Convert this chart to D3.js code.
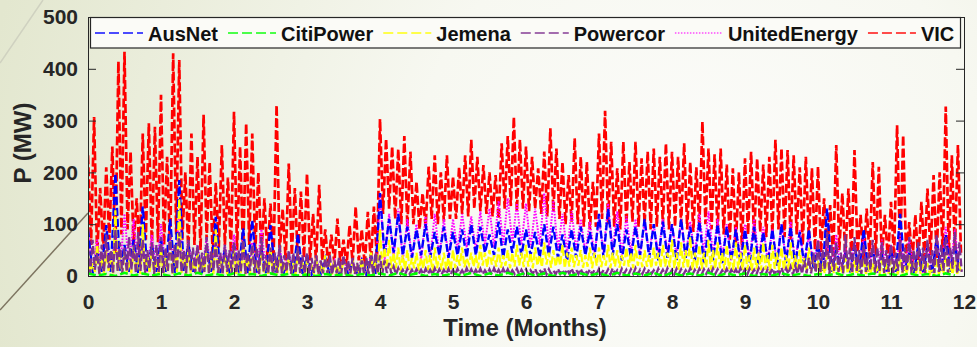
<!DOCTYPE html>
<html>
<head>
<meta charset="utf-8">
<script src="https://cdn.jsdelivr.net/npm/d3@7"></script>
<style>
  html, body { margin: 0; padding: 0; overflow: hidden; }
  svg { display: block; }
</style>
</head>
<body>
<svg id="chart" width="977" height="347"></svg>
<script>
// months on the x axis, MW on the y axis
const monthTicks = [0, 1, 2, 3, 4, 5, 6, 7, 8, 9, 10, 11, 12];
const powerTicks = [0, 100, 200, 300, 400, 500];
const seriesNames = ['AusNet', 'CitiPower', 'Jemena', 'Powercor', 'UnitedEnergy', 'VIC'];

// VIC: 12 peaks / troughs per month
const vicHi = [
  233, 307, 170, 210, 250, 414, 433, 240, 150, 275, 295, 288,
  350, 230, 430, 417, 200, 275, 230, 311, 220, 180, 253, 190,
  317, 250, 295, 275, 200, 150, 140, 330, 130, 217, 170, 163,
  198, 120, 176, 90, 80, 111, 70, 98, 134, 90, 124, 134,
  303, 265, 250, 245, 270, 240, 182, 160, 211, 233, 200, 233,
  192, 210, 233, 263, 230, 214, 200, 195, 256, 270, 307, 263,
  250, 230, 208, 240, 285, 246, 220, 195, 266, 230, 220, 182,
  275, 319, 259, 208, 259, 220, 259, 227, 240, 246, 230, 256,
  240, 230, 256, 220, 210, 298, 246, 235, 246, 215, 208, 200,
  227, 240, 227, 215, 230, 263, 246, 243, 233, 210, 230, 208,
  211, 150, 137, 253, 160, 169, 243, 118, 130, 220, 211, 118,
  143, 291, 272, 104, 118, 143, 169, 195, 200, 327, 233, 253
];
const vicLo = [
  60, 40, 50, 70, 45, 80, 90, 60, 40, 70, 55, 65,
  60, 50, 80, 70, 45, 60, 50, 70, 40, 55, 60, 45,
  50, 40, 60, 45, 40, 35, 30, 45, 30, 40, 30, 35,
  30, 25, 30, 20, 25, 20, 20, 25, 30, 20, 25, 30,
  120, 130, 110, 100, 95, 100, 90, 95, 110, 100, 105, 110,
  110, 120, 115, 130, 125, 120, 115, 110, 130, 135, 125, 130,
  125, 130, 120, 115, 125, 110, 100, 105, 100, 95, 90, 95,
  110, 100, 95, 90, 100, 105, 95, 100, 90, 95, 100, 90,
  95, 100, 90, 85, 95, 100, 90, 85, 80, 70, 60, 55,
  80, 70, 85, 75, 80, 90, 75, 70, 80, 60, 70, 50,
  45, 40, 35, 50, 40, 35, 45, 30, 35, 40, 35, 30,
  35, 40, 30, 25, 30, 35, 40, 35, 45, 40, 50, 45
];

// UnitedEnergy, AusNet: 8 peaks / troughs per month
const ueHi = [
  90, 70, 60, 80, 120, 110, 70, 80,
  100, 80, 120, 70, 60, 75, 65, 60,
  80, 70, 65, 90, 50, 55, 45, 40,
  40, 35, 30, 30, 35, 30, 35, 40,
  155, 120, 130, 110, 100, 115, 120, 110,
  110, 120, 115, 125, 130, 145, 150, 140,
  140, 130, 160, 145, 120, 125, 110, 105,
  110, 140, 125, 115, 110, 105, 100, 110,
  100, 110, 105, 120, 125, 110, 100, 95,
  100, 110, 95, 90, 100, 105, 90, 80,
  70, 60, 80, 55, 65, 75, 60, 70,
  60, 80, 70, 55, 65, 75, 95, 90
];
const ueLo = [
  10, 8, 12, 10, 15, 10, 8, 10,
  10, 8, 10, 8, 6, 8, 6, 8,
  6, 5, 6, 8, 5, 6, 5, 5,
  5, 4, 5, 4, 5, 4, 5, 5,
  30, 35, 30, 35, 30, 35, 40, 35,
  50, 55, 50, 60, 55, 60, 65, 60,
  55, 60, 55, 50, 45, 50, 45, 40,
  45, 50, 40, 45, 40, 45, 40, 45,
  40, 35, 40, 45, 40, 35, 30, 35,
  30, 35, 30, 25, 30, 25, 20, 20,
  10, 8, 10, 8, 10, 8, 6, 8,
  8, 10, 8, 6, 8, 10, 12, 10
];
const ausHi = [
  90, 50, 98, 198, 60, 70, 134, 60,
  70, 110, 185, 60, 50, 55, 114, 50,
  60, 92, 108, 50, 98, 45, 40, 82,
  40, 30, 35, 25, 30, 25, 30, 40,
  160, 110, 120, 95, 90, 100, 85, 95,
  85, 90, 100, 95, 80, 105, 90, 95,
  90, 85, 100, 95, 80, 90, 95, 85,
  120, 130, 100, 90, 95, 110, 100, 105,
  100, 110, 95, 105, 90, 100, 95, 90,
  90, 95, 85, 90, 100, 95, 85, 90,
  60, 130, 50, 45, 60, 90, 50, 40,
  50, 120, 45, 60, 55, 70, 80, 60
];
const ausLo = [
  5, 8, 6, 10, 8, 6, 10, 8,
  8, 6, 10, 8, 6, 8, 6, 5,
  5, 6, 5, 6, 5, 4, 5, 4,
  3, 4, 3, 3, 4, 3, 3, 4,
  40, 45, 40, 35, 40, 35, 40, 35,
  40, 35, 40, 45, 40, 35, 45, 40,
  40, 35, 40, 35, 30, 35, 40, 35,
  35, 40, 30, 35, 40, 35, 30, 35,
  30, 35, 30, 25, 30, 25, 30, 25,
  25, 20, 25, 20, 25, 20, 20, 15,
  10, 8, 10, 6, 8, 10, 6, 8,
  8, 10, 6, 8, 6, 10, 8, 10
];

// Jemena, Powercor: 16 peaks / troughs per month
const jemHi = [
  40, 25, 60, 35, 50, 30, 127, 40, 45, 30, 55, 35, 100, 40, 50, 30,
  55, 35, 70, 40, 150, 45, 50, 30, 45, 35, 60, 30, 90, 35, 40, 30,
  50, 30, 65, 35, 60, 30, 45, 30, 55, 30, 40, 25, 35, 25, 50, 30,
  30, 20, 35, 20, 40, 25, 30, 20, 35, 20, 30, 20, 35, 25, 45, 30,
  90, 55, 70, 45, 55, 40, 50, 35, 45, 35, 50, 40, 55, 40, 45, 35,
  50, 40, 55, 35, 45, 40, 60, 45, 50, 40, 55, 40, 50, 45, 60, 45,
  60, 45, 55, 40, 65, 45, 50, 40, 60, 45, 55, 40, 50, 40, 55, 45,
  55, 40, 60, 45, 50, 40, 55, 45, 60, 40, 50, 40, 55, 45, 60, 45,
  70, 45, 65, 50, 75, 45, 60, 45, 70, 50, 65, 45, 60, 40, 65, 45,
  60, 40, 55, 45, 65, 40, 60, 45, 55, 40, 65, 40, 50, 35, 55, 35,
  30, 20, 40, 20, 25, 15, 35, 20, 30, 20, 35, 20, 25, 15, 30, 20,
  30, 20, 35, 20, 40, 25, 30, 20, 25, 15, 35, 20, 40, 20, 30, 20
];
const jemLo = [
  5, 8, 4, 6, 10, 5, 8, 4, 6, 5, 8, 4, 6, 5, 7, 4,
  5, 7, 4, 8, 6, 4, 5, 6, 4, 7, 5, 4, 6, 5, 4, 5,
  4, 6, 3, 5, 4, 3, 5, 4, 3, 4, 5, 3, 4, 3, 5, 3,
  3, 4, 3, 3, 4, 3, 3, 4, 3, 3, 4, 3, 3, 4, 3, 4,
  10, 14, 12, 15, 10, 13, 12, 15, 11, 14, 12, 10, 15, 12, 13, 11,
  15, 20, 17, 22, 18, 15, 20, 17, 22, 18, 16, 20, 15, 18, 20, 17,
  18, 15, 20, 17, 22, 16, 18, 20, 15, 18, 17, 20, 16, 18, 15, 20,
  17, 20, 15, 18, 16, 20, 18, 15, 20, 17, 18, 15, 20, 16, 18, 17,
  15, 12, 16, 14, 12, 15, 13, 16, 12, 14, 15, 12, 13, 11, 14, 12,
  12, 10, 13, 11, 12, 10, 14, 11, 12, 10, 11, 9, 10, 8, 9, 7,
  4, 5, 3, 5, 4, 3, 5, 4, 3, 5, 4, 3, 5, 4, 3, 4,
  4, 3, 5, 4, 3, 5, 4, 3, 4, 5, 3, 4, 5, 3, 4, 4
];
const pcHi = [
  55, 70, 45, 60, 80, 50, 90, 65, 55, 75, 60, 85, 70, 50, 65, 60,
  75, 55, 80, 60, 85, 50, 70, 55, 60, 45, 75, 50, 65, 45, 60, 50,
  65, 50, 70, 45, 60, 55, 75, 40, 55, 45, 60, 40, 50, 45, 55, 40,
  45, 35, 40, 30, 35, 40, 30, 35, 40, 30, 35, 25, 30, 35, 40, 45,
  40, 30, 25, 18, 15, 12, 14, 12, 13, 12, 14, 12, 15, 13, 12, 14,
  12, 14, 11, 15, 13, 12, 14, 11, 13, 15, 12, 14, 13, 11, 14, 12,
  13, 11, 14, 12, 15, 13, 11, 14, 12, 13, 15, 12, 14, 11, 13, 12,
  14, 12, 13, 15, 11, 14, 12, 13, 15, 12, 14, 13, 11, 14, 12, 15,
  12, 14, 13, 11, 15, 12, 14, 13, 12, 15, 13, 11, 14, 12, 13, 15,
  13, 14, 12, 15, 13, 14, 15, 13, 16, 15, 18, 20, 25, 30, 35, 45,
  70, 50, 85, 60, 65, 45, 80, 55, 75, 50, 60, 45, 70, 55, 65, 50,
  60, 45, 70, 55, 75, 50, 65, 55, 70, 50, 80, 60, 75, 55, 85, 65
];
const pcLo = [
  5, 12, 4, 8, 15, 6, 10, 4, 8, 12, 5, 10, 6, 14, 4, 8,
  6, 10, 4, 12, 8, 5, 10, 6, 4, 8, 5, 10, 6, 4, 8, 5,
  5, 8, 4, 10, 6, 4, 8, 5, 4, 6, 5, 8, 4, 5, 6, 4,
  4, 6, 3, 5, 4, 3, 5, 4, 3, 5, 4, 3, 5, 4, 3, 5,
  4, 6, 4, 3, 4, 3, 4, 3, 4, 3, 4, 3, 4, 3, 4, 3,
  3, 4, 3, 4, 3, 4, 3, 4, 3, 4, 3, 4, 3, 4, 3, 4,
  3, 4, 3, 4, 3, 4, 3, 4, 3, 4, 3, 4, 3, 4, 3, 4,
  3, 4, 3, 4, 3, 4, 3, 4, 3, 4, 3, 4, 3, 4, 3, 4,
  3, 4, 3, 4, 3, 4, 3, 4, 3, 4, 3, 4, 3, 4, 3, 4,
  3, 4, 3, 4, 3, 4, 3, 4, 3, 4, 3, 4, 4, 5, 5, 6,
  6, 12, 4, 10, 8, 5, 14, 6, 10, 4, 8, 12, 5, 10, 6, 8,
  5, 10, 6, 12, 4, 8, 10, 5, 12, 6, 8, 10, 5, 14, 6, 8
];

// CitiPower: 4 per month, hugging zero
const citiHi = [
  5, 4, 6, 5, 4, 5, 6, 4, 5, 4, 5, 4, 3, 4, 3, 4,
  5, 6, 5, 4, 5, 6, 5, 6, 6, 5, 6, 5, 5, 6, 5, 6,
  6, 5, 6, 5, 5, 4, 5, 4, 4, 5, 4, 5, 4, 5, 4, 5
];
const citiLo = [
  1, 0, 1, 1, 0, 1, 1, 0, 1, 0, 1, 1, 0, 1, 0, 1,
  1, 1, 0, 1, 1, 0, 1, 1, 1, 0, 1, 1, 0, 1, 1, 0,
  1, 1, 0, 1, 0, 1, 1, 0, 1, 0, 1, 1, 0, 1, 0, 1
];

const colors = {
  AusNet: '#0000ff', CitiPower: '#00ff00', Jemena: '#ffff00',
  Powercor: '#7e2f8e', UnitedEnergy: '#ff00ff', VIC: '#ff0000'
};
const dashes = {
  AusNet: '8,3', CitiPower: '8,3', Jemena: '8,3',
  Powercor: '8,3', UnitedEnergy: '1.6,1.4', VIC: '9,3'
};
const widths = {
  AusNet: 2.4, CitiPower: 2.5, Jemena: 2.2,
  Powercor: 2.3, UnitedEnergy: 2, VIC: 2.7
};

// peak at start of each slot, trough half a slot later
function zigzag(hi, lo) {
  const perMonth = hi.length / 12;
  const pts = [];
  hi.forEach((h, i) => {
    pts.push([i / perMonth, h]);
    pts.push([(i + 0.5) / perMonth, lo[i]]);
  });
  return pts;
}

const seriesData = {
  VIC: zigzag(vicHi, vicLo),
  UnitedEnergy: zigzag(ueHi, ueLo),
  AusNet: zigzag(ausHi, ausLo),
  Jemena: zigzag(jemHi, jemLo),
  Powercor: zigzag(pcHi, pcLo),
  CitiPower: zigzag(citiHi, citiLo)
};
const drawOrder = ['VIC', 'UnitedEnergy', 'AusNet', 'Jemena', 'Powercor', 'CitiPower'];

const W = 977, H = 347;
const mLeft = 88, mRight = 964, mTop = 17, mBottom = 276;
const font = '"Liberation Sans", Arial, sans-serif';
const ink = '#262626';

const svg = d3.select('#chart');

// slide background
const defs = svg.append('defs');
const grad = defs.append('radialGradient')
  .attr('id', 'bg')
  .attr('gradientUnits', 'userSpaceOnUse')
  .attr('cx', 700).attr('cy', 190).attr('r', 720);
grad.append('stop').attr('offset', 0).attr('stop-color', '#fcfcfa');
grad.append('stop').attr('offset', 0.4).attr('stop-color', '#f7f8f1');
grad.append('stop').attr('offset', 1).attr('stop-color', '#e3e7cf');
svg.append('rect').attr('width', W).attr('height', H).attr('fill', 'url(#bg)');

svg.append('line')
  .attr('x1', 0).attr('y1', 63).attr('x2', 43).attr('y2', 0)
  .attr('stroke', '#cfd1c0').attr('stroke-width', 1.5);
svg.append('line')
  .attr('x1', 0).attr('y1', 310).attr('x2', mLeft).attr('y2', 213)
  .attr('stroke', '#7d7460').attr('stroke-width', 1.5);

defs.append('clipPath').attr('id', 'plotClip')
  .append('rect').attr('x', mLeft).attr('y', mTop)
  .attr('width', mRight - mLeft).attr('height', mBottom - mTop);

const x = d3.scaleLinear().domain([0, 12]).range([mLeft, mRight]);
const y = d3.scaleLinear().domain([0, 500]).range([mBottom, mTop]);

const line = d3.line().x(d => x(d[0])).y(d => y(d[1]));

const plot = svg.append('g').attr('clip-path', 'url(#plotClip)');
drawOrder.forEach(name => {
  plot.append('path')
    .datum(seriesData[name])
    .attr('d', line)
    .attr('fill', 'none')
    .attr('stroke', colors[name])
    .attr('stroke-width', widths[name])
    .attr('stroke-linejoin', 'miter')
    .attr('stroke-dasharray', dashes[name]);
});

// axes, MATLAB box style with inward ticks
function styleAxis(g) {
  g.attr('font-family', font).attr('font-size', 21).attr('font-weight', 'bold');
  g.selectAll('path, line').attr('stroke', ink);
  g.selectAll('text').attr('fill', ink);
}

svg.append('g')
  .attr('transform', `translate(0,${mBottom})`)
  .call(d3.axisBottom(x).tickValues(monthTicks).tickSizeInner(-8).tickSizeOuter(0).tickPadding(18))
  .call(styleAxis);
svg.append('g')
  .attr('transform', `translate(0,${mTop})`)
  .call(d3.axisTop(x).tickValues(monthTicks).tickSizeInner(-8).tickSizeOuter(0).tickFormat(''))
  .call(styleAxis);
svg.append('g')
  .attr('transform', `translate(${mLeft},0)`)
  .call(d3.axisLeft(y).tickValues(powerTicks).tickSizeInner(-8).tickSizeOuter(0).tickPadding(10))
  .call(styleAxis);
svg.append('g')
  .attr('transform', `translate(${mRight},0)`)
  .call(d3.axisRight(y).tickValues(powerTicks).tickSizeInner(-8).tickSizeOuter(0).tickFormat(''))
  .call(styleAxis);

svg.append('text')
  .attr('x', (mLeft + mRight) / 2 - 1).attr('y', 336)
  .attr('text-anchor', 'middle')
  .attr('font-family', font).attr('font-size', 24).attr('font-weight', 'bold')
  .attr('fill', ink)
  .text('Time (Months)');
svg.append('text')
  .attr('transform', 'translate(31,143) rotate(-90)')
  .attr('text-anchor', 'middle')
  .attr('font-family', font).attr('font-size', 24).attr('font-weight', 'bold')
  .attr('fill', ink)
  .text('P (MW)');

// legend
const legend = svg.append('g');
legend.append('rect')
  .attr('x', 90.5).attr('y', 17.5).attr('width', 870).attr('height', 30.5)
  .attr('fill', '#fbfbf7').attr('stroke', ink).attr('stroke-width', 1.2);

let lx = 95;
seriesNames.forEach(name => {
  legend.append('line')
    .attr('x1', lx).attr('x2', lx + 48)
    .attr('y1', 33).attr('y2', 33)
    .attr('stroke', colors[name])
    .attr('stroke-opacity', 0.7)
    .attr('stroke-width', name === 'UnitedEnergy' ? 1.5 : 2)
    .attr('stroke-dasharray', name === 'UnitedEnergy' ? '1.5,1.5' : '10,4');
  const t = legend.append('text')
    .attr('x', lx + 53).attr('y', 41)
    .attr('font-family', font).attr('font-size', 20).attr('font-weight', 'bold')
    .attr('fill', '#111')
    .text(name);
  lx += 53 + t.node().getComputedTextLength() + 10;
});
</script>
</body>
</html>
